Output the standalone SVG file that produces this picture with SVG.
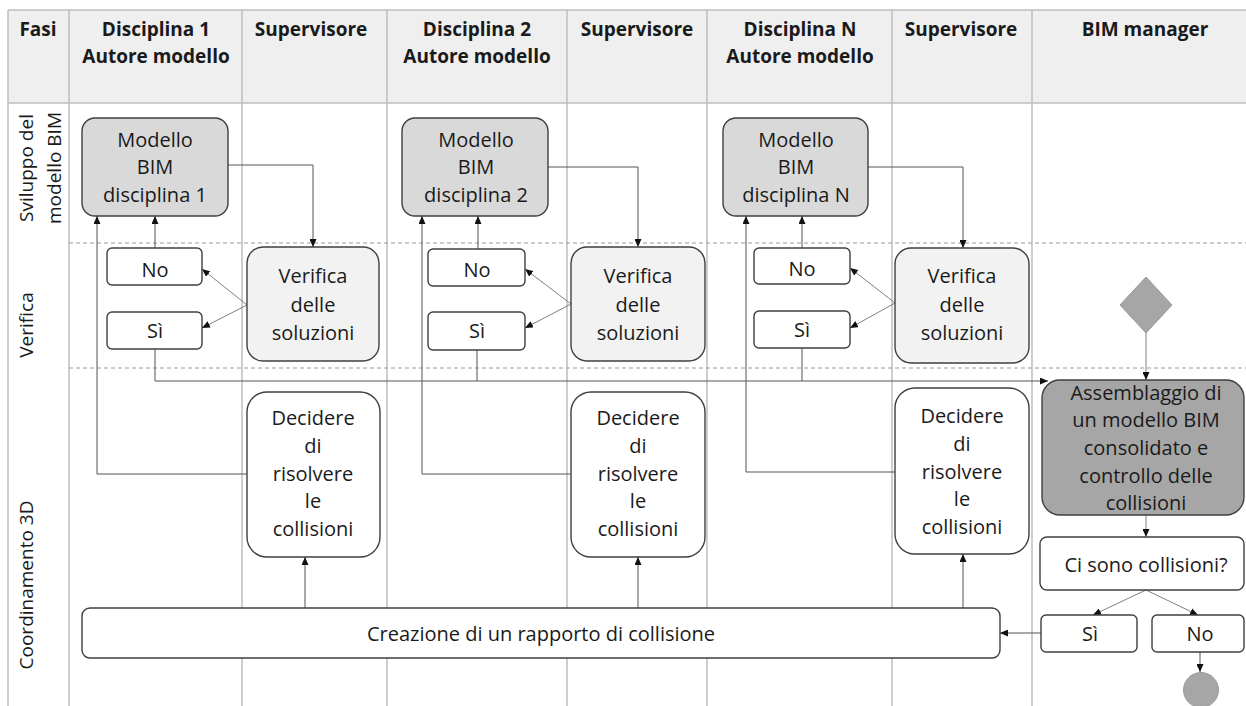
<svg xmlns="http://www.w3.org/2000/svg" width="1246" height="706" viewBox="0 0 1246 706">
  <style>
    text { font-family: "Open Sans", "Liberation Sans", sans-serif; fill: #1a1a1a; }
    .hd { font-size: 19px; font-weight: bold; text-anchor: middle; }
    .ph { font-size: 19px; text-anchor: middle; }
    .tx { font-size: 20px; text-anchor: middle; }
    .grid { stroke: #bfbfbf; stroke-width: 1.5; fill: none; }
    .dash { stroke: #9a9a9a; stroke-width: 1; stroke-dasharray: 4 3; fill: none; }
    .box { stroke: #3f3f3f; stroke-width: 1.4; }
    .model { fill: #d9d9d9; }
    .check { fill: #f2f2f2; }
    .white { fill: #ffffff; }
    .dark { fill: #a6a6a6; }
    .cn { stroke: #555555; stroke-width: 1; fill: none; marker-end: url(#ah); }
    .cl { stroke: #555555; stroke-width: 1; fill: none; }
    .cg { stroke: #808080; stroke-width: 1; fill: none; marker-end: url(#ah); }
  </style>
  <defs>
    <marker id="ah" markerUnits="userSpaceOnUse" markerWidth="8" markerHeight="7" refX="8" refY="3.5" orient="auto">
      <path d="M0,0 L8,3.5 L0,7 z" fill="#111111"/>
    </marker>
  </defs>

  <rect width="1246" height="706" fill="#ffffff"/>

  <!-- swimlane table -->
  <g id="table">
    <rect x="8" y="10" width="1240" height="93" fill="#efefef"/>
    <path class="grid" d="M8,10 H1246 M8,103 H1246 M8,10 V706 M69,10 V706 M242,10 V706 M387,10 V706 M567,10 V706 M707,10 V706 M892,10 V706 M1032,10 V706"/>
    <path class="dash" d="M69,243 H1246 M69,368 H1246"/>
  </g>

  <g id="headers">
    <text class="hd" x="38" y="36">Fasi</text>
    <text class="hd" x="156" y="36">Disciplina 1</text>
    <text class="hd" x="156" y="63">Autore modello</text>
    <text class="hd" x="311" y="36">Supervisore</text>
    <text class="hd" x="477" y="36">Disciplina 2</text>
    <text class="hd" x="477" y="63">Autore modello</text>
    <text class="hd" x="637" y="36">Supervisore</text>
    <text class="hd" x="800" y="36">Disciplina N</text>
    <text class="hd" x="800" y="63">Autore modello</text>
    <text class="hd" x="961" y="36">Supervisore</text>
    <text class="hd" x="1145" y="36">BIM manager</text>
  </g>

  <g id="phases">
    <text class="ph" transform="translate(33,168) rotate(-90)">Sviluppo del</text>
    <text class="ph" transform="translate(61,168) rotate(-90)">modello BIM</text>
    <text class="ph" transform="translate(33,325) rotate(-90)">Verifica</text>
    <text class="ph" transform="translate(33,585) rotate(-90)">Coordinamento 3D</text>
  </g>

  <!-- connectors -->
  <g id="connectors">
    <!-- discipline 1 -->
    <path class="cn" d="M228,165 H313 V247"/>
    <path class="cg" d="M247,305 L202,269"/>
    <path class="cg" d="M247,305 L202,328"/>
    <path class="cn" d="M155,248 V216"/>
    <path class="cn" d="M247,474 H97 V216"/>
    <path class="cn" d="M305,608 V557"/>
    <path class="cl" d="M155,349 V381"/>
    <!-- discipline 2 -->
    <path class="cn" d="M548,167 H638 V247"/>
    <path class="cg" d="M571,304 L525,269"/>
    <path class="cg" d="M571,304 L525,328"/>
    <path class="cn" d="M478,249 V216"/>
    <path class="cn" d="M571,474 H422 V216"/>
    <path class="cn" d="M638,608 V557"/>
    <path class="cl" d="M477,350 V381"/>
    <!-- discipline N -->
    <path class="cn" d="M868,167 H963 V248"/>
    <path class="cg" d="M895,303 L850,268"/>
    <path class="cg" d="M895,303 L850,328"/>
    <path class="cn" d="M802,248 V216"/>
    <path class="cn" d="M895,472 H746 V216"/>
    <path class="cn" d="M963,608 V554"/>
    <path class="cl" d="M802,348 V381"/>
    <!-- approved models to BIM manager -->
    <path class="cn" d="M155,381 H1048"/>
    <!-- BIM manager flow -->
    <path class="cg" d="M1146,333 V380"/>
    <path class="cg" d="M1146,515 V537"/>
    <path class="cg" d="M1146,590 L1093,615"/>
    <path class="cg" d="M1146,590 L1198,615"/>
    <path class="cn" d="M1041,633 H1000"/>
    <path class="cn" d="M1200,652 V672"/>
  </g>

  <!-- discipline 1 -->
  <g id="modello1">
    <rect class="box model" x="82" y="118" width="146" height="98" rx="13"/>
    <text class="tx" x="155" y="147">Modello</text>
    <text class="tx" x="155" y="174">BIM</text>
    <text class="tx" x="155" y="202">disciplina 1</text>
  </g>
  <g id="no1">
    <rect class="box white" x="107" y="248" width="95" height="37" rx="5"/>
    <text class="tx" x="155" y="277">No</text>
  </g>
  <g id="si1">
    <rect class="box white" x="107" y="312" width="95" height="37" rx="5"/>
    <text class="tx" x="155" y="338">Sì</text>
  </g>
  <g id="verifica1">
    <rect class="box check" x="247" y="247" width="132" height="114" rx="16"/>
    <text class="tx" x="313" y="283">Verifica</text>
    <text class="tx" x="313" y="312">delle</text>
    <text class="tx" x="313" y="340">soluzioni</text>
  </g>
  <g id="decidere1">
    <rect class="box white" x="247" y="392" width="133" height="165" rx="20"/>
    <text class="tx" x="313" y="425">Decidere</text>
    <text class="tx" x="313" y="453">di</text>
    <text class="tx" x="313" y="481">risolvere</text>
    <text class="tx" x="313" y="508">le</text>
    <text class="tx" x="313" y="536">collisioni</text>
  </g>

  <!-- discipline 2 -->
  <g id="modello2">
    <rect class="box model" x="402" y="118" width="146" height="98" rx="13"/>
    <text class="tx" x="476" y="147">Modello</text>
    <text class="tx" x="476" y="174">BIM</text>
    <text class="tx" x="476" y="202">disciplina 2</text>
  </g>
  <g id="no2">
    <rect class="box white" x="428" y="249" width="97" height="37" rx="5"/>
    <text class="tx" x="477" y="277">No</text>
  </g>
  <g id="si2">
    <rect class="box white" x="428" y="312" width="97" height="38" rx="5"/>
    <text class="tx" x="477" y="338">Sì</text>
  </g>
  <g id="verifica2">
    <rect class="box check" x="571" y="247" width="134" height="114" rx="16"/>
    <text class="tx" x="638" y="283">Verifica</text>
    <text class="tx" x="638" y="312">delle</text>
    <text class="tx" x="638" y="340">soluzioni</text>
  </g>
  <g id="decidere2">
    <rect class="box white" x="571" y="392" width="134" height="165" rx="20"/>
    <text class="tx" x="638" y="425">Decidere</text>
    <text class="tx" x="638" y="453">di</text>
    <text class="tx" x="638" y="481">risolvere</text>
    <text class="tx" x="638" y="508">le</text>
    <text class="tx" x="638" y="536">collisioni</text>
  </g>

  <!-- discipline N -->
  <g id="modelloN">
    <rect class="box model" x="723" y="118" width="145" height="98" rx="13"/>
    <text class="tx" x="796" y="147">Modello</text>
    <text class="tx" x="796" y="174">BIM</text>
    <text class="tx" x="796" y="202">disciplina N</text>
  </g>
  <g id="noN">
    <rect class="box white" x="754" y="248" width="96" height="36" rx="5"/>
    <text class="tx" x="802" y="276">No</text>
  </g>
  <g id="siN">
    <rect class="box white" x="754" y="311" width="96" height="37" rx="5"/>
    <text class="tx" x="802" y="337">Sì</text>
  </g>
  <g id="verificaN">
    <rect class="box check" x="895" y="248" width="134" height="115" rx="16"/>
    <text class="tx" x="962" y="283">Verifica</text>
    <text class="tx" x="962" y="312">delle</text>
    <text class="tx" x="962" y="340">soluzioni</text>
  </g>
  <g id="decidereN">
    <rect class="box white" x="895" y="388" width="134" height="166" rx="20"/>
    <text class="tx" x="962" y="423">Decidere</text>
    <text class="tx" x="962" y="451">di</text>
    <text class="tx" x="962" y="479">risolvere</text>
    <text class="tx" x="962" y="506">le</text>
    <text class="tx" x="962" y="534">collisioni</text>
  </g>

  <!-- shared report -->
  <g id="rapporto">
    <rect class="box white" x="82" y="608" width="918" height="50" rx="8"/>
    <text class="tx" x="541" y="641">Creazione di un rapporto di collisione</text>
  </g>

  <!-- BIM manager -->
  <g id="start">
    <polygon points="1146,277 1172,305 1146,333 1120,305" fill="#a6a6a6" stroke="#9a9a9a" stroke-width="1"/>
  </g>
  <g id="assemblaggio">
    <rect class="box dark" x="1042" y="380" width="202" height="135" rx="18"/>
    <text class="tx" x="1146" y="400">Assemblaggio di</text>
    <text class="tx" x="1146" y="427">un modello BIM</text>
    <text class="tx" x="1146" y="455">consolidato e</text>
    <text class="tx" x="1146" y="483">controllo delle</text>
    <text class="tx" x="1146" y="510">collisioni</text>
  </g>
  <g id="domanda">
    <rect class="box white" x="1040" y="537" width="204" height="53" rx="7"/>
    <text class="tx" x="1146" y="572">Ci sono collisioni?</text>
  </g>
  <g id="si-bim">
    <rect class="box white" x="1041" y="615" width="96" height="37" rx="5"/>
    <text class="tx" x="1090" y="641">Sì</text>
  </g>
  <g id="no-bim">
    <rect class="box white" x="1152" y="615" width="92" height="37" rx="5"/>
    <text class="tx" x="1200" y="641">No</text>
  </g>
  <g id="end">
    <circle cx="1201" cy="690" r="17.5" fill="#a6a6a6" stroke="#9a9a9a" stroke-width="1"/>
  </g>
</svg>
